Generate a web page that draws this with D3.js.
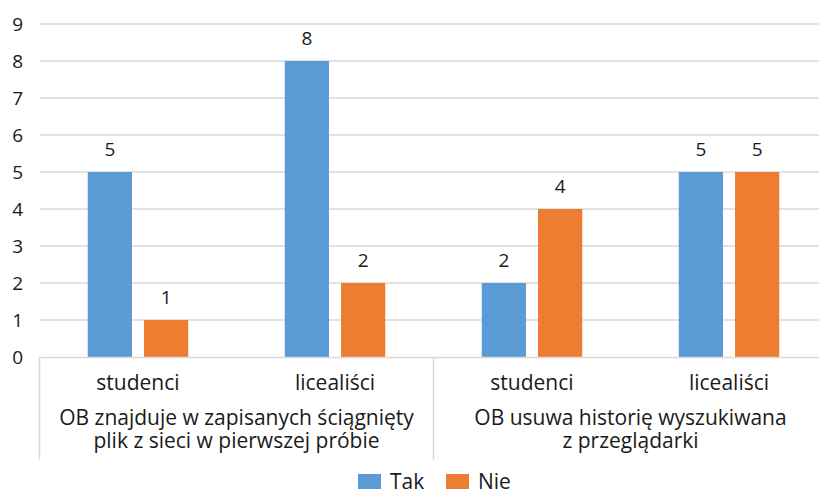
<!DOCTYPE html>
<html>
<head>
<meta charset="utf-8">
<script src="https://cdn.jsdelivr.net/npm/d3@7"></script>
<style>
  html, body { margin: 0; padding: 0; background: #fff; }
  svg { display: block; font-family: "Open Sans", "Noto Sans", sans-serif; }
</style>
</head>
<body>
<div id="chart"></div>
<script>
// data
const groups = [
  ["OB znajduje w zapisanych ściągnięty", "plik z sieci w pierwszej próbie"],
  ["OB usuwa historię wyszukiwana", "z przeglądarki"]
];
const subcategories = ["studenci", "licealiści", "studenci", "licealiści"];
const groupOf = [0, 0, 1, 1];
const seriesNames = ["Tak", "Nie"];
const takValues = [5, 8, 2, 5];
const nieValues = [1, 2, 4, 5];
const yTicks = [0, 1, 2, 3, 4, 5, 6, 7, 8, 9];
const colors = { Tak: "#5B9BD5", Nie: "#ED7D31" };

const width = 819, height = 490;
const textColor = '#1a1a1a';

const svg = d3.select('#chart').append('svg')
  .attr('width', width)
  .attr('height', height);

// ------------------------------------------------------------------ SCALES
// plot runs past the right edge of the picture, as in the reference
const x0 = d3.scaleBand()
  .domain(d3.range(subcategories.length))
  .range([39.5, 827.5])
  .paddingInner(0.49)
  .paddingOuter(0.245);

const x1 = d3.scaleBand()
  .domain(seriesNames)
  .range([0, x0.bandwidth()])
  .paddingInner(0.214);

const y = d3.scaleLinear()
  .domain([0, 9])
  .range([357, 24]);

// ------------------------------------------------------------------ GRID
svg.append('g')
  .selectAll('line')
  .data(yTicks.slice(1))
  .join('line')
  .attr('x1', 40)
  .attr('x2', width)
  .attr('y1', d => y(d))
  .attr('y2', d => y(d))
  .attr('stroke', '#d9d9d9')
  .attr('stroke-width', 1.5);

// y labels
const yAxis = svg.append('g')
  .attr('transform', 'translate(23,0)')
  .call(d3.axisLeft(y).tickValues(yTicks).tickSize(0).tickPadding(0));
yAxis.select('.domain').remove();
yAxis.selectAll('text')
  .attr('font-size', 19)
  .attr('font-family', '"Open Sans", "Noto Sans", sans-serif')
  .attr('fill', textColor);

// ------------------------------------------------------------------ BARS
const rows = subcategories.map((s, i) => ({ i, Tak: takValues[i], Nie: nieValues[i] }));

const slot = svg.append('g')
  .selectAll('g')
  .data(rows)
  .join('g')
  .attr('transform', d => `translate(${x0(d.i)},0)`);

slot.selectAll('rect')
  .data(d => seriesNames.map(k => ({ key: k, value: d[k] })))
  .join('rect')
  .attr('x', d => x1(d.key))
  .attr('width', x1.bandwidth())
  .attr('y', d => y(d.value))
  .attr('height', d => y(0) - y(d.value))
  .attr('fill', d => colors[d.key]);

slot.selectAll('text')
  .data(d => seriesNames.map(k => ({ key: k, value: d[k] })))
  .join('text')
  .attr('x', d => x1(d.key) + x1.bandwidth() / 2)
  .attr('y', d => y(d.value) - 16)
  .attr('text-anchor', 'middle')
  .attr('font-size', 19)
  .attr('fill', textColor)
  .text(d => d.value);

// ------------------------------------------------------------------ CATEGORY AXIS
const axisColor = '#d9d9d9';
svg.append('line')
  .attr('x1', 40).attr('x2', width)
  .attr('y1', y(0) + 0.5).attr('y2', y(0) + 0.5)
  .attr('stroke', axisColor).attr('stroke-width', 1.5);

// group dividers: at the start of each group and at the end
const step = x0.step();
const dividers = [0, 2, 4].map(i => x0.range()[0] + i * step);
svg.append('g')
  .selectAll('line')
  .data(dividers)
  .join('line')
  .attr('x1', d => d).attr('x2', d => d)
  .attr('y1', y(0)).attr('y2', 460)
  .attr('stroke', axisColor)
  .attr('stroke-width', 1.5);

svg.append('g')
  .selectAll('text')
  .data(subcategories)
  .join('text')
  .attr('x', (d, i) => x0(i) + x0.bandwidth() / 2)
  .attr('y', 390)
  .attr('text-anchor', 'middle')
  .attr('font-size', 21)
  .attr('fill', textColor)
  .text(d => d);

const groupLabel = svg.append('g')
  .selectAll('text')
  .data(groups)
  .join('text')
  .attr('x', (d, gi) => {
    const idx = d3.range(subcategories.length).filter(i => groupOf[i] === gi);
    return (x0(idx[0]) + x0(idx[idx.length - 1]) + x0.bandwidth()) / 2;
  })
  .attr('y', 425)
  .attr('text-anchor', 'middle')
  .attr('font-size', 21)
  .attr('fill', textColor);

groupLabel.selectAll('tspan')
  .data(d => d)
  .join('tspan')
  .attr('x', function () { return d3.select(this.parentNode).attr('x'); })
  .attr('dy', (d, i) => i === 0 ? 0 : 23)
  .text(d => d);

// ------------------------------------------------------------------ LEGEND
const legendX = [358, 446];
const legend = svg.append('g')
  .selectAll('g')
  .data(seriesNames)
  .join('g')
  .attr('transform', (d, i) => `translate(${legendX[i]},474)`);

legend.append('rect')
  .attr('width', 23)
  .attr('height', 15)
  .attr('fill', d => colors[d]);

legend.append('text')
  .attr('x', 32)
  .attr('y', 14.5)
  .attr('font-size', 21)
  .attr('fill', textColor)
  .text(d => d);
</script>
</body>
</html>
